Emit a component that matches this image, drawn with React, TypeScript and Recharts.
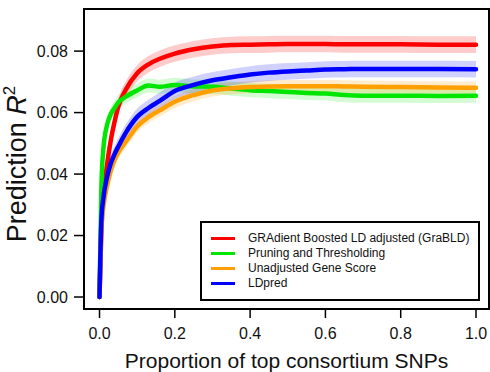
import React from 'react';
import {
  ComposedChart,
  Line,
  Area,
  XAxis,
  YAxis,
  ReferenceArea,
} from 'recharts';

// proportion of top consortium SNPs used
const proportion = [0, 0.005, 0.01, 0.02, 0.03, 0.04, 0.05, 0.07, 0.1, 0.13, 0.16, 0.2, 0.25, 0.3, 0.35, 0.4, 0.45, 0.5, 0.55, 0.6, 0.65, 0.7, 0.8, 0.9, 1.0];

// prediction R^2 per method
const graBLD = [0, 0.022, 0.032, 0.043, 0.051, 0.057, 0.062, 0.0675, 0.0728, 0.0757, 0.0775, 0.0792, 0.0806, 0.0815, 0.082, 0.0821, 0.0822, 0.0823, 0.0823, 0.0823, 0.0822, 0.0822, 0.0822, 0.0821, 0.0821];
const pruning = [0, 0.036, 0.048, 0.056, 0.0595, 0.0615, 0.0633, 0.0652, 0.0672, 0.0688, 0.0684, 0.069, 0.0685, 0.0684, 0.0678, 0.0673, 0.067, 0.0667, 0.0664, 0.0662, 0.0657, 0.0655, 0.0655, 0.0654, 0.0655];
const unadjusted = [0, 0.022, 0.029, 0.036, 0.041, 0.0445, 0.047, 0.0505, 0.0555, 0.0585, 0.0607, 0.0635, 0.0657, 0.0672, 0.0679, 0.0683, 0.0685, 0.0686, 0.0686, 0.0686, 0.0685, 0.0684, 0.0683, 0.0682, 0.0681];
const ldpred = [0, 0.025, 0.032, 0.039, 0.0435, 0.0465, 0.049, 0.0535, 0.0586, 0.0615, 0.0638, 0.067, 0.069, 0.0705, 0.0715, 0.0724, 0.073, 0.0734, 0.0737, 0.074, 0.0741, 0.0742, 0.0742, 0.0742, 0.0741];

// half-width of the shaded bands
const graBLDBand = 0.0027;
const pruningBand = 0.0023;
const unadjustedBand = 0.002;
const ldpredBand = 0.0027;

const xTicks = [0, 0.2, 0.4, 0.6, 0.8, 1.0];
const yTicks = [0, 0.02, 0.04, 0.06, 0.08];

const series = [
  { key: 'graBLD', name: 'GRAdient Boosted LD adjusted (GraBLD)', color: '#ff0000', band: 'rgba(255,0,0,0.2)' },
  { key: 'pruning', name: 'Pruning and Thresholding', color: '#00e600', band: 'rgba(0,230,0,0.17)' },
  { key: 'unadjusted', name: 'Unadjusted Gene Score', color: '#ffa000', band: 'rgba(255,160,0,0.2)' },
  { key: 'ldpred', name: 'LDpred', color: '#0000ff', band: 'rgba(0,0,255,0.18)' },
];

const data = proportion.map((x, i) => ({
  x,
  graBLD: graBLD[i],
  pruning: pruning[i],
  unadjusted: unadjusted[i],
  ldpred: ldpred[i],
  graBLDBand: [graBLD[i] - graBLDBand, graBLD[i] + graBLDBand],
  pruningBand: [pruning[i] - pruningBand, pruning[i] + pruningBand],
  unadjustedBand: [unadjusted[i] - unadjustedBand, unadjusted[i] + unadjustedBand],
  ldpredBand: [ldpred[i] - ldpredBand, ldpred[i] + ldpredBand],
}));

const FONT = '"Liberation Sans", Arial, Helvetica, sans-serif';
const X_DOMAIN = [-0.0412, 1.0345];
const Y_DOMAIN = [-0.0039, 0.0937];

// legend drawn as an overlay so it doesn't steal plot height
const LegendBox = () => (
  <div
    style={{
      position: 'absolute',
      left: 200,
      top: 221,
      width: 276,
      height: 68,
      border: '2px solid #000',
      background: '#fff',
      fontFamily: FONT,
      fontSize: 12,
      color: '#111',
      paddingTop: 8,
      boxSizing: 'content-box',
    }}
  >
    {series.map((s) => (
      <div key={s.key} style={{ display: 'flex', alignItems: 'center', height: 15 }}>
        <div style={{ width: 24, height: 3, background: s.color, marginLeft: 9, marginRight: 13 }} />
        <span style={{ lineHeight: '15px', whiteSpace: 'nowrap' }}>{s.name}</span>
      </div>
    ))}
  </div>
);

const YLabel = () => (
  <text
    x={26}
    y={164}
    transform="rotate(-90, 26, 164)"
    textAnchor="middle"
    fontFamily={FONT}
    fontSize={27}
    fill="#111"
  >
    Prediction <tspan fontStyle="italic">R</tspan>
    <tspan fontSize={17} dy={-11}>2</tspan>
  </text>
);

export default function App() {
  return (
    <div style={{ position: 'absolute', left: 0, top: 0, width: 490, height: 372, background: '#fff' }}>
      <ComposedChart
        width={490}
        height={372}
        data={data}
        margin={{ top: 9, right: 1, left: 0, bottom: 0 }}
      >
        <XAxis
          type="number"
          dataKey="x"
          domain={X_DOMAIN}
          ticks={xTicks}
          tickFormatter={(v: number) => v.toFixed(1)}
          height={63}
          axisLine={false}
          tickLine={{ stroke: '#000', strokeWidth: 1.5 }}
          tickSize={9}
          tickMargin={10}
          tick={{ fill: '#111', fontSize: 16, fontFamily: FONT }}
          label={{ value: 'Proportion of top consortium SNPs', position: 'insideBottom', offset: 4, fill: '#111', fontSize: 21, fontFamily: FONT }}
        />
        <YAxis
          type="number"
          domain={Y_DOMAIN}
          ticks={yTicks}
          tickFormatter={(v: number) => v.toFixed(2)}
          width={84}
          axisLine={false}
          tickLine={{ stroke: '#000', strokeWidth: 1.5 }}
          tickSize={10}
          tickMargin={6}
          tick={{ fill: '#111', fontSize: 16, fontFamily: FONT }}
          label={<YLabel />}
        />
        {series.map((s) => (
          <Area
            key={`${s.key}-band`}
            type="monotone"
            dataKey={`${s.key}Band`}
            stroke="none"
            fill={s.band}
            fillOpacity={1}
            isAnimationActive={false}
            legendType="none"
            activeDot={false}
          />
        ))}
        {series.map((s) => (
          <Line
            key={s.key}
            type="monotone"
            dataKey={s.key}
            name={s.name}
            stroke={s.color}
            strokeWidth={4.5}
            strokeLinecap="round"
            dot={false}
            activeDot={false}
            isAnimationActive={false}
          />
        ))}
        <ReferenceArea
          x1={X_DOMAIN[0]}
          x2={X_DOMAIN[1]}
          y1={Y_DOMAIN[0]}
          y2={Y_DOMAIN[1]}
          fill="none"
          stroke="#000"
          strokeWidth={2}
        />
      </ComposedChart>
      <LegendBox />
    </div>
  );
}
